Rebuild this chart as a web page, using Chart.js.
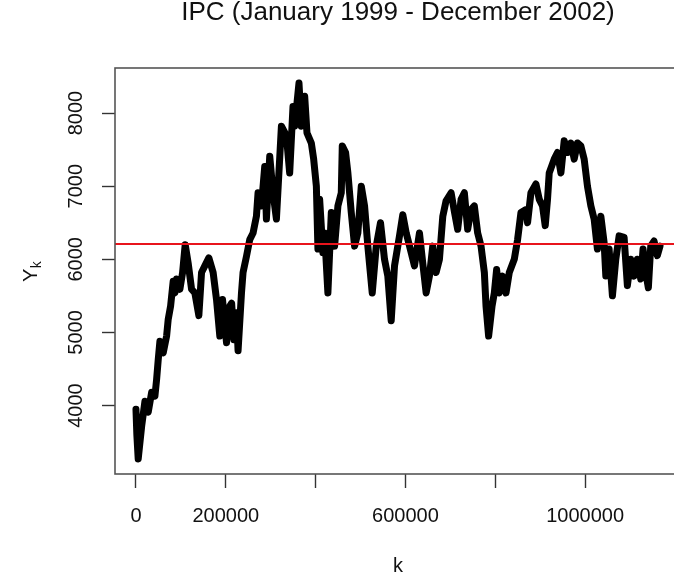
<!DOCTYPE html>
<html>
<head>
<meta charset="utf-8">
<script src="https://cdn.jsdelivr.net/npm/chart.js@4/dist/chart.umd.min.js"></script>
<style>
  html, body { margin: 0; padding: 0; overflow: hidden; background: #fff; }
  #wrap { width: 720px; height: 582px; }
</style>
</head>
<body>
<div id="wrap"><canvas id="chart" width="720" height="582"></canvas></div>
<script>
// index k of the observation
const kValues = [
  1, 2000, 5000, 12700, 20000, 27300, 34900, 42200, 46000, 49600, 53300, 60700,
  68200, 71800, 77100, 82900, 86700, 90400, 97800, 103800, 109600, 116200, 123800,
  131100, 140000, 146000, 153300, 162200, 171800, 179300, 186700, 192700, 201600,
  208900, 213000, 218000, 223800, 227300, 234900, 238400, 246000, 253300, 260700,
  268200, 271800, 279300, 286700, 290400, 297800, 305100, 312700, 323800, 334900,
  342200, 349600, 353300, 362900, 368200, 375600, 380700, 390400, 395600, 401600,
  405100, 408900, 416200, 420000, 427300, 434900, 442200, 449600, 457100, 459300,
  466700, 471800, 479300, 486700, 494000, 501600, 508900, 516200, 526000, 534900,
  544400, 553300, 560700, 568200, 575600, 586700, 594000, 601600, 612700, 620000,
  631100, 638400, 646000, 653300, 660700, 668200, 675600, 683100, 690400, 701600,
  708900, 716200, 723800, 731100, 738400, 745900, 753300, 760700, 768200, 775600,
  779300, 785100, 792700, 797800, 802900, 808900, 816200, 823800, 831100, 842200,
  849600, 857100, 868200, 871800, 879300, 890400, 897800, 905100, 911100, 916200,
  920000, 931100, 938400, 946000, 953300, 960700, 968200, 975600, 982900, 990400,
  997800, 1005100, 1012700, 1020000, 1027300, 1034900, 1042200, 1046000, 1053300,
  1060700, 1068200, 1075600, 1086700, 1094000, 1101600, 1108900, 1116200, 1123800,
  1128900, 1134900, 1140700, 1146000, 1153300, 1160700, 1166700
];
// IPC value Y_k
const yValues = [
  3950, 3600, 3270, 3720, 4060, 3910, 4180, 4130, 4360, 4630, 4880, 4720,
  4950, 5180, 5360, 5700, 5540, 5730, 5590, 5820, 6200, 5950, 5590,
  5540, 5230, 5820, 5910, 6020, 5820, 5450, 4950, 5450, 4860,
  5360, 5400, 4900, 5270, 4750, 5540, 5820, 6040, 6270, 6360,
  6590, 6910, 6730, 7270, 6550, 7410, 6910, 6550, 7820, 7690,
  7180, 8090, 7820, 8410, 7820, 8230, 7730, 7590, 7370, 7000,
  6140, 6820, 6090, 6360, 5540, 6640, 6180, 6730, 6910, 7550,
  7460, 7180, 6640, 6180, 6360, 7000, 6730, 6180, 5540, 6180,
  6500, 6000, 5770, 5160, 5910, 6320, 6610, 6360, 6090, 5910,
  6360, 5950, 5540, 5770, 6180, 5820, 6000, 6590, 6800, 6910,
  6650, 6410, 6820, 6910, 6410, 6680, 6730, 6360, 6180, 5820,
  5360, 4950, 5360, 5540, 5860, 5540, 5770, 5540, 5820, 6000,
  6270, 6640, 6680, 6500, 6910, 7030, 6820, 6730, 6460, 6820,
  7180, 7370, 7460, 7180, 7620, 7460, 7590, 7370, 7590, 7550,
  7370, 7000, 6730, 6550, 6140, 6590, 6230, 5770, 6140,
  5500, 6000, 6320, 6300, 5640, 6000, 5770, 6000, 5730,
  6140, 5820, 5610, 6180, 6250, 6050, 6180
];
const meanLevel = 6210;
const xTicks = [0, 200000, 400000, 600000, 800000, 1000000];
const xTickLabels = ['0', '200000', '', '600000', '', '1000000'];
const yTicks = [4000, 5000, 6000, 7000, 8000];

// R style axis limits: data range widened by 4% on each side
const kMin = Math.min(...kValues), kMax = Math.max(...kValues);
const yMin = Math.min(...yValues), yMax = Math.max(...yValues);
const xLo = kMin - 0.04 * (kMax - kMin), xHi = kMax + 0.04 * (kMax - kMin);
const yLo = yMin - 0.04 * (yMax - yMin), yHi = yMax + 0.04 * (yMax - yMin);

const FONT = '"Liberation Sans", Arial, sans-serif';

const boxPlugin = {
  id: 'rbox',
  afterDraw(chart) {
    const { ctx, chartArea: a } = chart;
    ctx.save();
    ctx.strokeStyle = '#555';
    ctx.lineWidth = 1.6;
    ctx.strokeRect(a.left, a.top, a.right - a.left, a.bottom - a.top);

    // y axis title: Y with subscript k, reading upwards
    ctx.fillStyle = '#111';
    ctx.translate(37, 282);
    ctx.rotate(-Math.PI / 2);
    ctx.textBaseline = 'alphabetic';
    ctx.font = '20px ' + FONT;
    ctx.fillText('Y', 0, 0);
    const w = ctx.measureText('Y').width;
    ctx.font = '14px ' + FONT;
    ctx.fillText('k', w + 0.5, 4);
    ctx.restore();
  }
};

new Chart(document.getElementById('chart'), {
  type: 'line',
  data: {
    datasets: [
      {
        label: 'mean',
        data: [{ x: xLo, y: meanLevel }, { x: xHi, y: meanLevel }],
        borderColor: '#e8141c',
        borderWidth: 2,
        pointRadius: 0,
        order: 0
      },
      {
        label: 'IPC',
        data: kValues.map((k, i) => ({ x: k, y: yValues[i] })),
        borderColor: '#000',
        borderWidth: 7,
        borderJoinStyle: 'round',
        borderCapStyle: 'round',
        pointRadius: 0,
        tension: 0,
        order: 1
      }
    ]
  },
  options: {
    responsive: false,
    animation: false,
    layout: { padding: { left: 0, right: 39, top: 0, bottom: 0 } },
    plugins: {
      legend: { display: false },
      tooltip: { enabled: false },
      title: {
        display: true,
        fullSize: false,
        text: 'IPC (January 1999 - December 2002)',
        color: '#111',
        font: { family: FONT, size: 26, weight: 'normal', lineHeight: 1 },
        padding: { top: 0, bottom: 42 }
      }
    },
    scales: {
      x: {
        type: 'linear',
        min: xLo,
        max: xHi,
        afterBuildTicks: axis => { axis.ticks = xTicks.map(v => ({ value: v })); },
        afterFit: axis => { axis.height = 108; },
        border: { display: false },
        grid: {
          drawOnChartArea: false,
          drawTicks: true,
          tickLength: 14,
          tickColor: '#333',
          tickWidth: 1.4
        },
        ticks: {
          color: '#111',
          font: { family: FONT, size: 20 },
          padding: 16,
          maxRotation: 0,
          autoSkip: false,
          callback: v => xTickLabels[xTicks.indexOf(v)]
        },
        title: {
          display: true,
          text: 'k',
          color: '#111',
          font: { family: FONT, size: 20 },
          padding: { top: 0, bottom: 4 }
        }
      },
      y: {
        type: 'linear',
        min: yLo,
        max: yHi,
        afterBuildTicks: axis => { axis.ticks = yTicks.map(v => ({ value: v })); },
        afterFit: axis => { axis.width = 115; },
        border: { display: false },
        grid: {
          drawOnChartArea: false,
          drawTicks: true,
          tickLength: 13,
          tickColor: '#333',
          tickWidth: 1.4
        },
        ticks: {
          color: '#111',
          font: { family: FONT, size: 20 },
          padding: 3,
          minRotation: 90,
          maxRotation: 90,
          crossAlign: 'center',
          autoSkip: false,
          callback: v => String(v)
        }
      }
    }
  },
  plugins: [boxPlugin]
});
</script>
</body>
</html>
